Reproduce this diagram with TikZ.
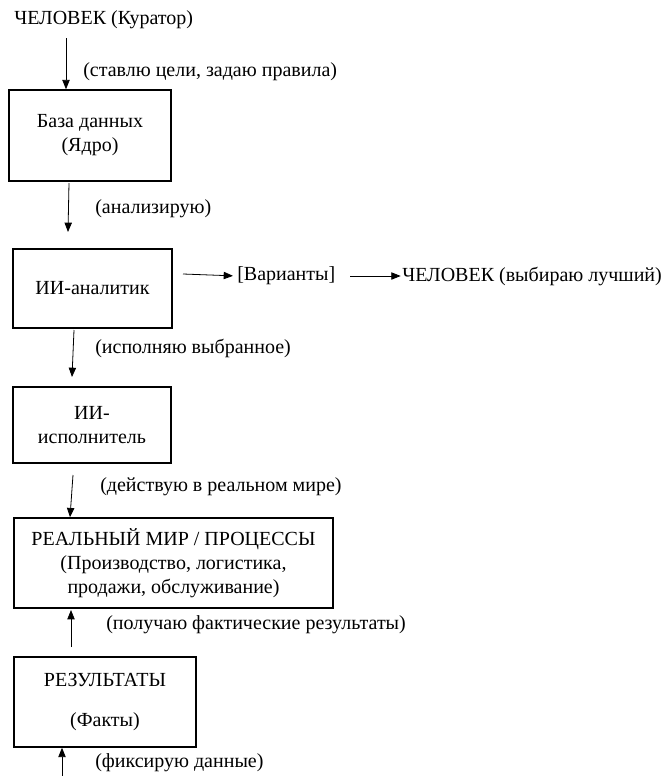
\documentclass[tikz,border=0pt]{standalone}
\usepackage{fontspec}
\setmainfont{Liberation Serif}
\usetikzlibrary{arrows.meta,calc,positioning}

\tikzset{
  blok/.style={draw,line width=1.1pt,align=center,inner sep=0pt},
  metka/.style={anchor=west,inner sep=0pt},
  strelka/.style={line width=0.6pt,-{Triangle[length=7pt,width=5.5pt]}}
}

\begin{document}
\begin{tikzpicture}[x=0.75pt,y=-0.75pt,font=\fontsize{15}{18}\selectfont]
\useasboundingbox (0,0) rectangle (662,776);

% Boxes of the chain.
\node[blok,minimum width=121.5pt,minimum height=68.25pt] (baza) at (90,135.5) {База данных\\(Ядро)};
\node[blok,minimum width=119.25pt,minimum height=59.25pt] (analitik) at (92.5,288.5) {ИИ-аналитик};
\node[blok,minimum width=118.5pt,minimum height=57pt] (ispolnitel) at (92,425) {ИИ-\\исполнитель};
\node[blok,minimum width=239.25pt,minimum height=67.5pt] (mir) at (173.5,563) {РЕАЛЬНЫЙ МИР / ПРОЦЕССЫ\\(Производство, логистика,\\продажи, обслуживание)};
\node[blok,minimum width=136.5pt,minimum height=67.5pt] (rezultaty) at (105,702) {РЕЗУЛЬТАТЫ\\[12pt](Факты)};

% Free texts.
\node[metka] (kurator) at (14,20) {ЧЕЛОВЕК (Куратор)};
\node[metka] (varianty) at (237,276) {[Варианты]};
\node[metka] (vybor) at (402,276) {ЧЕЛОВЕК (выбираю лучший)};

% Labels of the arrows.
\node[metka] (t1) at (83,72) {(ставлю цели, задаю правила)};
\node[metka] (t2) at (95,209) {(анализирую)};
\node[metka] (t3) at (95,348) {(исполняю выбранное)};
\node[metka] (t4) at (100,487) {(действую в реальном мире)};
\node[metka] (t5) at (106,625) {(получаю фактические результаты)};
\node[metka] (t6) at (95,763) {(фиксирую данные)};

% Loose ends of the arrows.
\coordinate (s1) at (66,38);
\coordinate (s2) at (69,183);
\coordinate (e2) at (68,232);
\coordinate (s3) at (74,330);
\coordinate (e3) at (72,377);
\coordinate (s4) at (73,475);
\coordinate (s5) at (71,647);
\coordinate (e5) at (71,610);
\coordinate (s6) at (62,776);
\coordinate (h1) at (183,274);
\coordinate (h2) at (350,276);

% Draw the arrows.
\draw[strelka] (s1) -- (s1 |- baza.north);
\draw[strelka] (s2) -- (e2);
\draw[strelka] (s3) -- (e3);
\draw[strelka] (s4) -- ($(s4 |- mir.north)+(-3,0)$);
\draw[strelka] (s5) -- (e5);
\draw[strelka] (s6) -- (s6 |- rezultaty.south);
\draw[strelka,shorten >=3pt] (h1) -- (varianty.west);
\draw[strelka,shorten >=1pt] (h2) -- (vybor.west);

\end{tikzpicture}
\end{document}
